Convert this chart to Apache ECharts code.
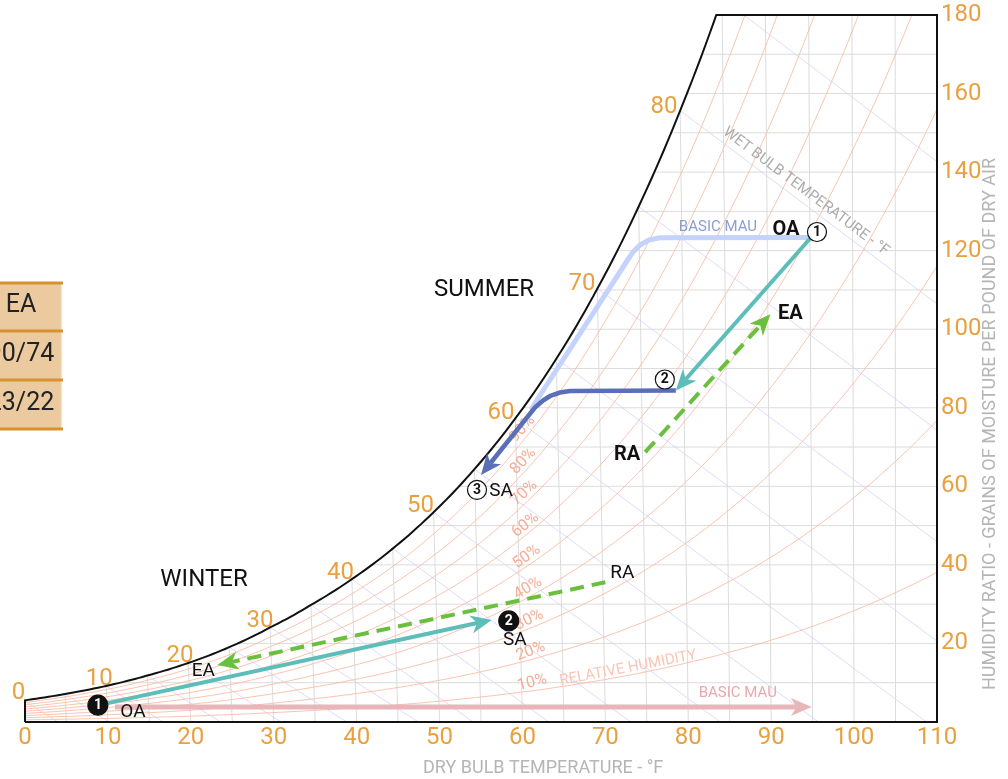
<!DOCTYPE html>
<html>
<head>
<meta charset="utf-8">
<script src="https://cdn.jsdelivr.net/npm/echarts@6/dist/echarts.min.js"></script>
<style>html,body{margin:0;padding:0;background:#fff}#chart{width:1008px;height:779px}</style>
</head>
<body>
<div id="chart"></div>
<script>
// ---------------- DATA ----------------
// Saturation vapour pressure table (deg F -> psia) used to build the psychrometric grid
const satTempsF = [0,5,10,15,20,25,30,35,40,45,50,55,60,65,70,75,80,85,90,95,100,105,110];
const satPressurePsia = [0.0185,0.0240,0.0309,0.0398,0.0505,0.0640,0.0808,0.0999,0.1217,0.1475,0.1781,0.2141,0.2563,0.3057,0.3633,0.4300,0.5073,0.5964,0.6988,0.8162,0.9503,1.1030,1.2763];
const rhLevels = [10,20,30,40,50,60,70,80,90];
const dryBulbGrid = [5,10,15,20,25,30,35,40,45,50,55,60,65,70,75,80,85,90,95,100,105];
const humidityGrid = [10,20,30,40,50,60,70,80,90,100,110,120,130,140,150,160,170];
const wetBulbGrid = [0,5,10,15,20,25,30,35,40,45,50,55,60,65,70,75,80,85];
const satLabelTemps = [0,10,20,30,40,50,60,70,80];

// Process points [dry bulb F, grains/lb]
const summerOA = [94.8, 123.35];
const summerCoil = [78.5, 84.4];
const summerSA = [55.0, 62.9];
const summerRA = [74.8, 68.7];
const summerEA = [89.9, 103.8];
const summerBasicMau = [[94.8,123.35],[76.59,123.3],[75.26,122.71],[74.18,121.44],[73.33,119.66],[72.61,117.37],[61.75,81.98],[61.03,79.43]];
const summerDoas = [[78.5,84.4],[65.73,84.27],[64.53,83.89],[63.44,83.12],[62.48,81.85],[61.51,80.07],[55.0,62.9]];
const winterOA = [10.0, 4.8];
const winterSA = [56.3, 26.0];
const winterRA = [70.0, 35.6];
const winterEA = [23.2, 14.5];
const winterBasicMau = [[10.85,3.8],[94.9,3.8]];
const tableCells = ['EA','90/74','23/22'];

// ---------------- helpers ----------------
const P_ATM = 14.696, GR = 7000, SKEW = 0.0435, SKEW_PIVOT = 106;
function pws(T){
  const n = satTempsF.length; let i = 0;
  while (i < n-2 && T > satTempsF[i+1]) i++;
  const t0 = satTempsF[i], t1 = satTempsF[i+1], f = (T-t0)/(t1-t0);
  return Math.exp(Math.log(satPressurePsia[i])*(1-f) + Math.log(satPressurePsia[i+1])*f);
}
function wLb(T, phi){ const p = phi*pws(T); return 0.622*p/(P_ATM-p); }
function wGr(T, phi){ return wLb(T, phi)*GR; }
function toChart(T, W){ return [Math.max(0, T - SKEW*(SKEW_PIVOT-T)*W/180), W]; }
function solveSatT(target){ let lo=0, hi=110; for (let k=0;k<60;k++){ const m=(lo+hi)/2; if (wGr(m,1)<target) lo=m; else hi=m; } return (lo+hi)/2; }
function wetBulbW(T, Twb){
  const ws = wLb(Twb,1);
  if (Twb >= 32) return ((1093-0.556*Twb)*ws - 0.24*(T-Twb))/(1093+0.444*T-Twb);
  return ((1220-0.04*Twb)*ws - 0.24*(T-Twb))/(1220+0.444*T-0.48*Twb);
}

// grid geometry built from the tables
const tTop = solveSatT(180);
const satCurve = [];
for (let T=0; T<tTop; T+=0.5) satCurve.push(toChart(T, wGr(T,1)));
satCurve.push(toChart(tTop,180));
const borderPath = [[0,0]].concat(satCurve, [[110,180],[110,0],[0,0]]);

const rhCurves = rhLevels.map(rh => { const pts=[]; for (let T=0; T<=110; T+=0.5) pts.push(toChart(T, wGr(T, rh/100))); return pts; });
const dryLines = dryBulbGrid.map(T => [toChart(T,0), toChart(T, wGr(T,1))]);
const humLines = humidityGrid.map(W => [toChart(solveSatT(W), W), [110, W]]);
const wetLines = wetBulbGrid.map(Twb => {
  const ws = wLb(Twb,1);
  const tEnd = Twb >= 32 ? Twb + (1093-0.556*Twb)*ws/0.24 : Twb + (1220-0.04*Twb)*ws/0.24;
  const t1 = Math.min(tEnd, 113); const pts=[];
  for (let k=0;k<=20;k++){ const T = Twb+(t1-Twb)*k/20; pts.push(toChart(T, Math.max(0, wetBulbW(T,Twb))*GR)); }
  return pts;
});

const ORANGE = '#e8a040';
const FONT = 'Roboto';
const TXT = {align:'center', verticalAlign:'middle', textAlign:'center', textVerticalAlign:'middle'};

function lineSeries(lines, color, width, z){
  return {
    type:'custom', clip:true, z:z, silent:true,
    data: lines.map(l => [l[0][0], l[0][1]]),
    renderItem: (params, api) => ({
      type:'polyline',
      shape:{points: lines[params.dataIndex].map(p => api.coord(p))},
      style:{stroke:color, lineWidth:width, fill:null}
    })
  };
}
function pixDir(api, a, b){ const p=api.coord(a), q=api.coord(b); return [q[0]-p[0], q[1]-p[1]]; }

// Saturation temperature labels
const satLabelSeries = {
  type:'custom', z:3, silent:true,
  data: satLabelTemps.map(T => toChart(T, wGr(T,1))),
  renderItem: (params, api) => {
    const T = satLabelTemps[params.dataIndex];
    const p = api.coord(toChart(T, wGr(T,1)));
    const a = Math.max(0,T-0.5);
    const d = pixDir(api, toChart(a, wGr(a,1)), toChart(T+0.5, wGr(T+0.5,1)));
    const len = Math.hypot(d[0], d[1]); const tx=d[0]/len, ty=d[1]/len;
    const nx = ty, ny = -tx;
    return {type:'text', x:p[0]+nx*13-4, y:p[1]+ny*13 + 6*(1-nx*nx),
      style:Object.assign({text:String(T), fill:ORANGE, fontSize:24, fontFamily:FONT}, TXT)};
  }
};

// RH labels
const rhLabelSeries = {
  type:'custom', z:3, silent:true,
  data: rhLevels.map(rh => toChart(61.5, wGr(61.5, rh/100))),
  renderItem: (params, api) => {
    const phi = rhLevels[params.dataIndex]/100;
    const p = api.coord(toChart(61.5, wGr(61.5, phi)));
    const d = pixDir(api, toChart(61, wGr(61, phi)), toChart(62, wGr(62, phi)));
    const ang = Math.atan2(-d[1], d[0]);
    const rot = ang*0.8 + 8*Math.PI/180;
    const nx = -Math.sin(rot), ny = -Math.cos(rot);
    return {type:'text', x:p[0]+nx*8, y:p[1]+ny*8, rotation:rot,
      style:Object.assign({text:rhLevels[params.dataIndex]+'%', fill:'#f6ad95', fontSize:16, fontFamily:FONT}, TXT)};
  }
};

// Curve captions (relative humidity, wet bulb)
const captionSeries = {
  type:'custom', z:3, silent:true,
  data: [[73,12],[94,130]],
  renderItem: (params, api) => {
    if (params.dataIndex === 0) {
      const p = api.coord(toChart(73, wGr(73,0.1)));
      const d = pixDir(api, toChart(72, wGr(72,0.1)), toChart(74, wGr(74,0.1)));
      const rot = Math.atan2(-d[1], d[0]);
      return {type:'text', x:p[0]-Math.sin(rot)*7, y:p[1]-Math.cos(rot)*7, rotation:rot,
        style:Object.assign({text:'RELATIVE HUMIDITY', fill:'#f9c6b5', fontSize:15, fontFamily:FONT}, TXT)};
    }
    const p = api.coord(toChart(93.8, wetBulbW(93.8,80)*GR));
    const d = pixDir(api, toChart(92.8, wetBulbW(92.8,80)*GR), toChart(94.8, wetBulbW(94.8,80)*GR));
    const rot = Math.atan2(-d[1], d[0]);
    return {type:'text', x:p[0]-Math.sin(rot)*11, y:p[1]-Math.cos(rot)*11, rotation:rot,
      style:Object.assign({text:'WET BULB TEMPERATURE - °F', fill:'#ababab', fontSize:15, fontFamily:FONT}, TXT)};
  }
};

// Process paths with arrowheads
const processPaths = [
  {pts: summerBasicMau, color:'#c4d3fb', width:5, arrow:false},
  {pts: summerDoas, color:'#5a6fb7', width:4.5, arrow:true},
  {pts: [summerOA, summerCoil], color:'#5dbdb9', width:4, arrow:true},
  {pts: [summerRA, summerEA], color:'#6bbf3e', width:4, dash:[14,8], arrow:true},
  {pts: winterBasicMau, color:'#e8b6b9', width:5, arrow:true},
  {pts: [winterOA, winterSA], color:'#5dbdb9', width:4, arrow:true},
  {pts: [winterRA, winterEA], color:'#6bbf3e', width:4, dash:[14,8], arrow:true}
];
const processSeries = {
  type:'custom', z:5, silent:true,
  data: processPaths.map(p => p.pts[0]),
  renderItem: (params, api) => {
    const pp = processPaths[params.dataIndex];
    const pts = pp.pts.map(p => api.coord(p));
    const children = [];
    let linePts = pts;
    if (pp.arrow) {
      const n = pts.length, tip = pts[n-1], prev = pts[n-2];
      const dx = tip[0]-prev[0], dy = tip[1]-prev[1], len = Math.hypot(dx,dy);
      const ux = dx/len, uy = dy/len, nx = -uy, ny = ux;
      const L = 21, Wd = 9, notch = 6;
      const inner = [tip[0]-ux*(L-notch), tip[1]-uy*(L-notch)];
      const back = [tip[0]-ux*L, tip[1]-uy*L];
      linePts = pts.slice(0, n-1).concat([inner]);
      children.push({type:'polygon', shape:{points:[tip, [back[0]+nx*Wd, back[1]+ny*Wd], inner, [back[0]-nx*Wd, back[1]-ny*Wd]]}, style:{fill:pp.color}});
    }
    children.unshift({type:'polyline', shape:{points:linePts}, style:{stroke:pp.color, lineWidth:pp.width, fill:null, lineDash:pp.dash || null, lineJoin:'round'}});
    return {type:'group', children};
  }
};

// numbered state-point markers
const markers = [
  {at: summerOA, dx:6, dy:-5.5, num:'1', filled:false},
  {at: summerCoil, dx:-11, dy:-11, num:'2', filled:false},
  {at: summerSA, dx:-4, dy:15, num:'3', filled:false},
  {at: winterOA, dx:-10, dy:2, num:'1', filled:true},
  {at: winterSA, dx:17, dy:1, num:'2', filled:true}
];
const markerSeries = {
  type:'custom', z:6, silent:true,
  data: markers.map(m => m.at),
  renderItem: (params, api) => {
    const m = markers[params.dataIndex];
    const p = api.coord(m.at); const cx = p[0]+m.dx, cy = p[1]+m.dy;
    return {type:'group', children:[
      {type:'circle', shape:{cx, cy, r: m.filled ? 10 : 9.5}, style:{fill: m.filled ? '#111' : '#fff', stroke:'#111', lineWidth:1.2}},
      {type:'text', x:cx, y:cy+0.5, style:Object.assign({text:m.num, fill: m.filled ? '#fff' : '#111', fontSize:14, fontWeight:'bold', fontFamily:FONT}, TXT)}
    ]};
  }
};

// text annotations near state points
const notes = [
  {at: summerOA, text:'OA', dx:-25, dy:-7.5, bold:true, size:20, color:'#111'},
  {at: summerOA, text:'BASIC MAU', dx:-93, dy:-10.5, size:15, color:'#8e9dd0'},
  {at: summerEA, text:'EA', dx:20, dy:0, bold:true, size:20, color:'#111'},
  {at: summerRA, text:'RA', dx:-18, dy:3, bold:true, size:20, color:'#111'},
  {at: summerSA, text:'SA', dx:20, dy:16, size:19, color:'#111'},
  {at: winterOA, text:'OA', dx:25, dy:9, size:19, color:'#111'},
  {at: winterSA, text:'SA', dx:23, dy:20, size:19, color:'#111'},
  {at: winterRA, text:'RA', dx:17, dy:-9, size:19, color:'#111'},
  {at: winterEA, text:'EA', dx:-14, dy:6, size:19, color:'#111'},
  {at: winterBasicMau[1], text:'BASIC MAU', dx:-74, dy:-14, size:15, color:'#eaa9ab'}
];
const noteSeries = {
  type:'custom', z:7, silent:true,
  data: notes.map(n => n.at),
  renderItem: (params, api) => {
    const n = notes[params.dataIndex]; const p = api.coord(n.at);
    return {type:'text', x:p[0]+n.dx, y:p[1]+n.dy,
      style:Object.assign({text:n.text, fill:n.color, fontSize:n.size, fontWeight:n.bold?'bold':'normal', fontFamily:FONT}, TXT)};
  }
};

const borderSeries = {
  type:'custom', clip:false, z:4, silent:true,
  data:[[0,0]],
  renderItem: (params, api) => ({type:'polyline', shape:{points: borderPath.map(p => api.coord(p))}, style:{stroke:'#111', lineWidth:2, fill:null, lineJoin:'miter'}})
};

// table on the left (partially cut off)
const tableGraphics = [
  {type:'rect', shape:{x:-90, y:283, width:152, height:146}, style:{fill:'#ecca9f'}},
  {type:'line', shape:{x1:61.5, y1:283, x2:61.5, y2:429}, style:{stroke:'#f6e2c6', lineWidth:1.5}},
];
[283,331,380,429].forEach(y => tableGraphics.push({type:'line', shape:{x1:-10, y1:y, x2:63, y2:y}, style:{stroke:'#d8912f', lineWidth:3}}));
tableCells.forEach((t, i) => tableGraphics.push({type:'text', x:21, y:306+i*49,
  style:Object.assign({text:t, fill:'#222', font:'25px '+FONT}, TXT)}));

const chart = echarts.init(document.getElementById('chart'), null, {renderer:'canvas'});
chart.setOption({
  animation:false,
  backgroundColor:'#fff',
  grid:{left:25, right:71, top:15, bottom:57},
  xAxis:{type:'value', min:0, max:110, interval:10,
    axisLine:{show:false}, axisTick:{show:false}, splitLine:{show:false},
    axisLabel:{color:ORANGE, fontSize:24, fontFamily:FONT, margin:4}},
  yAxis:{type:'value', position:'right', min:0, max:180, interval:20,
    axisLine:{show:false}, axisTick:{show:false}, splitLine:{show:false},
    axisLabel:{color:ORANGE, fontSize:24, fontFamily:FONT, margin:4, formatter: v => v === 0 ? '' : String(v)}},
  series:[
    lineSeries(dryLines, '#dcdcdc', 1, 1),
    lineSeries(humLines, '#dcdcdc', 1, 1),
    lineSeries(wetLines, '#d3d3f7', 0.8, 1),
    lineSeries(rhCurves, '#f9bca4', 0.9, 2),
    borderSeries,
    satLabelSeries,
    rhLabelSeries,
    captionSeries,
    processSeries,
    markerSeries,
    noteSeries
  ],
  graphic: tableGraphics.concat([
    {type:'text', x:484, y:290, style:Object.assign({text:'SUMMER', fill:'#111', font:'24px '+FONT}, TXT)},
    {type:'text', x:204, y:580, style:Object.assign({text:'WINTER', fill:'#111', font:'24px '+FONT}, TXT)},
    {type:'text', x:423, y:768, style:{text:'DRY BULB TEMPERATURE - °F', fill:'#b5b5b5', font:'18px '+FONT, textAlign:'left', textVerticalAlign:'middle', align:'left', verticalAlign:'middle'}},
    {type:'text', x:990, y:690, rotation:Math.PI/2, style:{text:'HUMIDITY RATIO - GRAINS OF MOISTURE PER POUND OF DRY AIR', fill:'#b5b5b5', font:'18px '+FONT, textAlign:'left', textVerticalAlign:'middle', align:'left', verticalAlign:'middle'}}
  ])
});
</script>
</body>
</html>
